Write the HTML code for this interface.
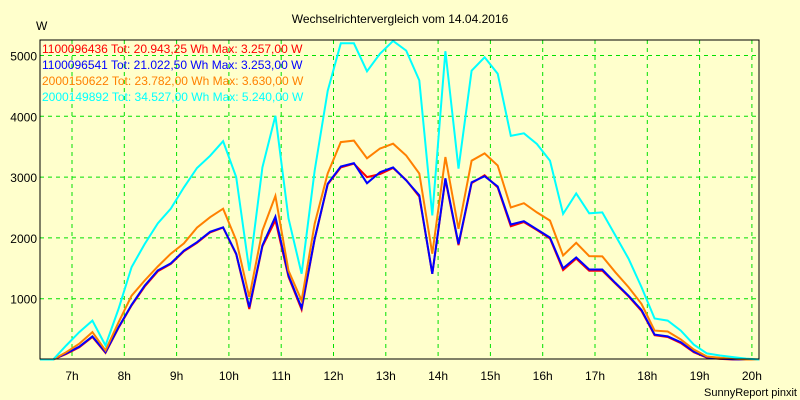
<!DOCTYPE html>
<html><head><meta charset="utf-8"><style>
html,body{margin:0;padding:0;background:#ffffcc;}
svg{display:block;font-family:"Liberation Sans",sans-serif;}
</style></head><body>
<svg id="chart" width="800" height="400" viewBox="0 0 800 400" xmlns="http://www.w3.org/2000/svg">
<rect x="0" y="0" width="800" height="400" fill="#ffffcc"/>
<text x="400" y="23" text-anchor="middle" font-size="12">Wechselrichtervergleich vom 14.04.2016</text>
<text x="36" y="30" font-size="12">W</text>
<g id="grid"></g>
<g id="yticks"></g>
<g id="xticks"></g>
<g id="series"></g>
<rect x="40" y="40" width="719" height="319" fill="none" stroke="#000" stroke-width="1"/>
<g id="legend" font-size="12"></g>
<text x="797" y="396" text-anchor="end" font-size="11">SunnyReport pinxit</text>
</svg>
<script>
const startHour = 6.39;
const stepHour = 0.25;
const yTicks = [1000, 2000, 3000, 4000, 5000];
const xTickHours = [7,8,9,10,11,12,13,14,15,16,17,18,19,20];
const seriesNames = ["1100096436 Tot: 20.943,25 Wh Max: 3.257,00 W","1100096541 Tot: 21.022,50 Wh Max: 3.253,00 W","2000150622 Tot: 23.782,00 Wh Max: 3.630,00 W","2000149892 Tot: 34.527,00 Wh Max: 5.240,00 W"];
const seriesColors = ["#ff0000","#0000ff","#ff8000","#00ffff"];
const redValues = [0,0,90,200,370,110,520,890,1200,1450,1570,1780,1920,2090,2170,1730,830,1860,2290,1360,820,1980,2880,3160,3220,3000,3050,3150,2950,2680,1410,2960,1880,2900,3030,2830,2190,2260,2130,1990,1470,1660,1460,1460,1250,1040,800,400,370,270,120,30,10,0,0,0];
const blueValues = [0,0,100,210,380,120,530,900,1215,1465,1580,1790,1930,2100,2175,1740,860,1875,2350,1380,850,1990,2890,3175,3230,2900,3080,3160,2945,2700,1410,2980,1900,2915,3015,2845,2220,2275,2140,2005,1500,1680,1480,1480,1260,1050,815,410,380,285,130,40,15,5,0,0];
const orangeValues = [0,0,120,260,450,150,610,1050,1300,1530,1740,1910,2170,2340,2480,1960,1025,2120,2690,1460,970,2235,3060,3575,3600,3310,3470,3550,3355,3060,1740,3330,2150,3270,3390,3190,2500,2570,2420,2285,1710,1920,1700,1695,1435,1190,915,475,460,330,165,50,30,15,0,0];
const cyanValues = [0,0,230,450,640,230,830,1520,1900,2240,2480,2830,3150,3350,3590,3000,1460,3160,4010,2320,1410,3110,4420,5200,5200,4740,5030,5240,5080,4590,2370,5070,3140,4750,4970,4700,3680,3720,3545,3270,2395,2730,2405,2420,2040,1660,1190,675,640,475,245,100,65,40,15,0];
const allSeries = [redValues, blueValues, orangeValues, cyanValues];

const NS = "http://www.w3.org/2000/svg";
const X0 = 72, PXH = 52.3, Y0 = 359.5, PXV = 0.0608;
function xPos(h){ return X0 + (h - 7) * PXH; }
function yPos(v){ return Y0 - v * PXV; }
function mk(tag, attrs, parent){ const e=document.createElementNS(NS,tag); for(const k in attrs) e.setAttribute(k,attrs[k]); parent.appendChild(e); return e; }

const grid=document.getElementById('grid');
const yt=document.getElementById('yticks');
const xt=document.getElementById('xticks');
yTicks.forEach(v=>{
  const l=mk('line',{x1:40,x2:759,y1:yPos(v),y2:yPos(v),stroke:'#00e000','stroke-dasharray':'4,4','stroke-width':1},grid);
  
  
  const t=mk('text',{x:37,y:yPos(v)+5,'text-anchor':'end','font-size':12},yt);
  t.textContent=String(v);
  
  
});
xTickHours.forEach(h=>{
  const l=mk('line',{x1:xPos(h),x2:xPos(h),y1:40,y2:359,stroke:'#00e000','stroke-dasharray':'4,4','stroke-width':1},grid);
  
  
  const t=mk('text',{x:xPos(h),y:380,'text-anchor':'middle','font-size':12},xt);
  t.textContent=h+'h';
  
  
});
const sg=document.getElementById('series');
allSeries.forEach((vals,si)=>{
  const pts=vals.map((v,i)=>xPos(startHour+i*stepHour).toFixed(1)+','+yPos(v).toFixed(1)).join(' ');
  const p=mk('polyline',{points:pts,fill:'none',stroke:seriesColors[si],'stroke-width':2,'stroke-linejoin':'miter'},sg);
  
  
});
const lg=document.getElementById('legend');
seriesNames.forEach((n,i)=>{
  const t=mk('text',{x:42,y:53+i*16,fill:seriesColors[i]},lg);
  t.textContent=n;
  
  
});
</script>
</body></html>
